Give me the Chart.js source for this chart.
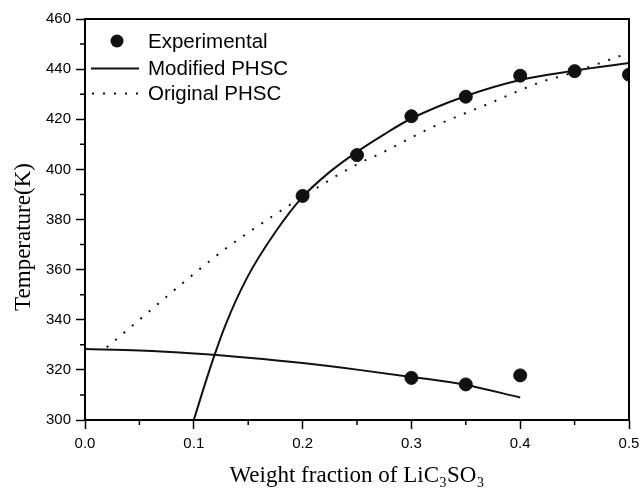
<!DOCTYPE html>
<html>
<head>
<meta charset="utf-8">
<script src="https://cdn.jsdelivr.net/npm/chart.js@4"></script>
<style>
html,body{margin:0;padding:0;background:#fff;}
#wrap{width:641px;height:490px;}
</style>
</head>
<body>
<div id="wrap"><canvas id="c" width="641" height="490"></canvas></div>
<script>
// ---- data ----
const xTickLabels = ['0.0','0.1','0.2','0.3','0.4','0.5'];
const yTickLabels = ['300','320','340','360','380','400','420','440','460'];

const expX = [0.2, 0.25, 0.3, 0.35, 0.4, 0.45, 0.5, 0.3, 0.35, 0.4];
const expY = [389.4, 405.7, 421.2, 429.0, 437.4, 439.2, 437.8, 316.8, 314.2, 317.8];

const modUpperX = [0.1, 0.109, 0.118, 0.129, 0.149, 0.175, 0.2, 0.225, 0.25, 0.275, 0.3, 0.35, 0.4, 0.45, 0.5];
const modUpperY = [300, 312.6, 324.6, 337.8, 356.8, 375, 389, 399, 407, 414, 420.3, 429.3, 435.7, 439.4, 442.4];

const modLowerX = [0.0, 0.05, 0.1, 0.15, 0.2, 0.25, 0.3, 0.35, 0.4];
const modLowerY = [328.3, 327.7, 326.5, 324.8, 322.7, 320.1, 317.2, 314.0, 309.0];

const origX = [0.02, 0.05, 0.09, 0.13, 0.17, 0.21, 0.25, 0.27, 0.32, 0.37, 0.42, 0.44, 0.5];
const origY = [329, 340, 354.7, 368.6, 380.6, 391.8, 402, 406, 417, 426, 435, 437.5, 446.5];

const legendLabels = ['Experimental', 'Modified PHSC', 'Original PHSC'];
const xTitle = 'Weight fraction of LiC\u2083SO\u2083';
const yTitle = 'Temperature(K)';

function pts(xs, ys){ return xs.map((x,i)=>({x:x, y:ys[i]})); }

const tickFont = {family:'"Liberation Sans", Arial, sans-serif', size:15};

const framePlugin = {
  id:'frame',
  afterDraw(chart){
    const ctx = chart.ctx, a = chart.chartArea;
    const xs = chart.scales.x, ys = chart.scales.y;
    ctx.save();
    ctx.strokeStyle = '#000';
    // box
    ctx.lineWidth = 2;
    ctx.strokeRect(a.left, a.top, a.right - a.left, a.bottom - a.top);
    // minor ticks
    ctx.lineWidth = 1.5;
    ctx.beginPath();
    for (let v = 0.05; v < 0.5; v += 0.1) {
      const px = xs.getPixelForValue(v);
      ctx.moveTo(px, a.bottom); ctx.lineTo(px, a.bottom + 5);
    }
    for (let v = 310; v < 460; v += 20) {
      const py = ys.getPixelForValue(v);
      ctx.moveTo(a.left, py); ctx.lineTo(a.left - 5, py);
    }
    ctx.stroke();
    // axis titles
    ctx.fillStyle = '#000';
    ctx.font = '23px "Liberation Serif", "Times New Roman", serif';
    ctx.textAlign = 'center';
    ctx.textBaseline = 'alphabetic';
    ctx.fillText(xTitle, (a.left + a.right) / 2, 482);
    ctx.save();
    ctx.translate(30, 237);
    ctx.rotate(-Math.PI / 2);
    ctx.fillText(yTitle, 0, 0);
    ctx.restore();
    // legend
    const lx = a.left;
    const ds = chart.data.datasets;
    ctx.font = '20.5px "Liberation Sans", Arial, sans-serif';
    ctx.textAlign = 'left';
    ctx.beginPath();
    ctx.fillStyle = ds[0].backgroundColor;
    ctx.arc(lx + 32, 41, 6.5, 0, Math.PI * 2);
    ctx.fill();
    ctx.fillStyle = '#000';
    ctx.fillText(legendLabels[0], lx + 63, 47.5);
    ctx.lineWidth = ds[1].borderWidth;
    ctx.strokeStyle = ds[1].borderColor;
    ctx.setLineDash([]);
    ctx.beginPath(); ctx.moveTo(lx + 6, 68.5); ctx.lineTo(lx + 54, 68.5); ctx.stroke();
    ctx.fillText(legendLabels[1], lx + 63, 74.5);
    ctx.lineWidth = ds[3].borderWidth;
    ctx.setLineDash(ds[3].borderDash);
    ctx.beginPath(); ctx.moveTo(lx + 7, 93.5); ctx.lineTo(lx + 56, 93.5); ctx.stroke();
    ctx.setLineDash([]);
    ctx.fillText(legendLabels[2], lx + 63, 100);
    ctx.restore();
  }
};

new Chart(document.getElementById('c'), {
  type: 'scatter',
  data: {
    datasets: [
      {label: legendLabels[0], data: pts(expX, expY), backgroundColor:'#111', borderColor:'#111',
       pointRadius: 6.5, pointHoverRadius: 6.5, showLine:false, order:0},
      {label: legendLabels[1], data: pts(modUpperX, modUpperY), showLine:true, borderColor:'#111',
       borderWidth:2, pointRadius:0, cubicInterpolationMode:'monotone', fill:false, order:1},
      {label: legendLabels[1] + ' (low)', data: pts(modLowerX, modLowerY), showLine:true, borderColor:'#111',
       borderWidth:2, pointRadius:0, cubicInterpolationMode:'monotone', fill:false, order:1},
      {label: legendLabels[2], data: pts(origX, origY), showLine:true, borderColor:'#111',
       borderWidth:2, borderDash:[2, 9], borderCapStyle:'butt', pointRadius:0, cubicInterpolationMode:'monotone', fill:false, order:2}
    ]
  },
  options: {
    responsive:false,
    animation:false,
    devicePixelRatio:1,
    layout:{padding:{left:0, right:12, top:19, bottom:0}},
    plugins:{legend:{display:false}, tooltip:{enabled:false}},
    scales:{
      x:{
        type:'linear', min:0, max:0.5,
        afterBuildTicks(s){ s.ticks = xTickLabels.map(t=>({value:parseFloat(t)})); },
        afterFit(s){ s.height = 70; s.paddingLeft = 0; s.paddingRight = 0; },
        ticks:{color:'#000', font:tickFont, padding:6, maxRotation:0,
          callback:(v,i)=>xTickLabels[i]},
        grid:{drawOnChartArea:false, drawTicks:true, tickLength:9, tickColor:'#000', tickWidth:1.5},
        border:{display:true, color:'#000', width:2}
      },
      y:{
        type:'linear', min:300, max:460,
        afterBuildTicks(s){ s.ticks = yTickLabels.map(t=>({value:parseFloat(t)})); },
        afterFit(s){ s.width = 85; s.paddingTop = 0; s.paddingBottom = 0; },
        ticks:{color:'#000', font:tickFont, padding:5,
          callback:(v,i)=>yTickLabels[i]},
        grid:{drawOnChartArea:false, drawTicks:true, tickLength:9, tickColor:'#000', tickWidth:1.5},
        border:{display:true, color:'#000', width:2}
      }
    }
  },
  plugins:[framePlugin]
});
</script>
</body>
</html>
